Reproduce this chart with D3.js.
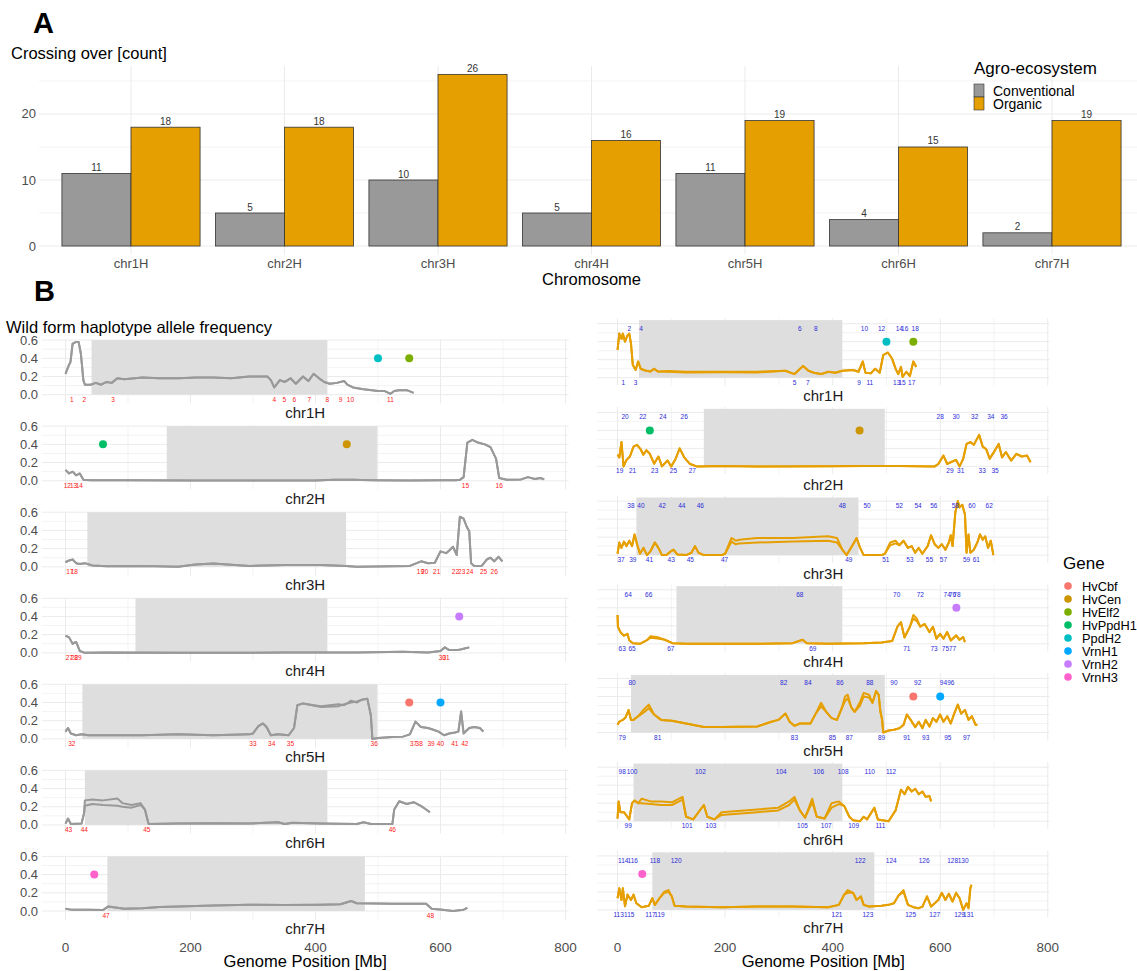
<!DOCTYPE html>
<html>
<head>
<meta charset="utf-8">
<script src="https://cdn.jsdelivr.net/npm/d3@7"></script>
<style>
  body { margin: 0; background: #fff; }
  svg { display: block; font-family: "Liberation Sans", Arial, Helvetica, sans-serif; }
</style>
</head>
<body>
<svg id="fig" width="1137" height="971"></svg>
<script>
// ---------- Panel A: crossing-over counts ----------
const chromosomes = ["chr1H", "chr2H", "chr3H", "chr4H", "chr5H", "chr6H", "chr7H"];
const systems = ["Conventional", "Organic"];
const conventionalCounts = [11, 5, 10, 5, 11, 4, 2];
const organicCounts = [18, 18, 26, 16, 19, 15, 19];
const systemColors = ["#999999", "#E69F00"];
const countTicks = [0, 10, 20];

// ---------- Panel B: wild haplotype allele frequency ----------
const genes = ["HvCbf", "HvCen", "HvElf2", "HvPpdH1", "PpdH2", "VrnH1", "VrnH2", "VrnH3"];
const geneColors = ["#F8766D", "#CD9600", "#7CAE00", "#00BE67", "#00BFC4", "#00A9FF", "#C77CFF", "#FF61CC"];
// gene, chromosome, position [Mb]
const geneSites = [
  ["PpdH2", "chr1H", 500], ["HvElf2", "chr1H", 550],
  ["HvPpdH1", "chr2H", 60], ["HvCen", "chr2H", 450],
  ["VrnH2", "chr4H", 630],
  ["HvCbf", "chr5H", 550], ["VrnH1", "chr5H", 600],
  ["VrnH3", "chr7H", 46]
];
const geneFreq = 0.4;
const positionTicks = [0, 200, 400, 600, 800];
const freqTicks = [0, 0.2, 0.4, 0.6];

// Conventional traces: [Mb, frequency, second replicate where it differs]
const conv1H = [[0,0.23],[5.7,0.33],[8,0.36],[11.4,0.56],[17,0.58],[21,0.58],[24.6,0.45],[28.6,0.16],[31,0.11],[40,0.11],[48.6,0.13],[57,0.11],[65.7,0.14],[74,0.13],[83,0.18],[94,0.17],[123,0.19],[150,0.18],[180,0.18],[210,0.19],[237,0.19],[265,0.18],[294,0.2],[323,0.2],[328.6,0.16],[334,0.08],[343,0.16],[351,0.14],[360,0.18],[368.6,0.12],[380,0.2],[388.6,0.15],[397,0.23],[405.7,0.18],[414,0.14],[423,0.12],[434,0.13],[446,0.15],[451,0.11],[460,0.08],[477,0.06],[500,0.04],[511,0.04],[520,0.01],[526,0.04],[534,0.05],[546,0.05],[557,0.02]];
const conv2H = [[0,0.12],[5.7,0.08],[11.4,0.1],[17,0.06],[22.9,0.08],[28.6,0.01],[40,0.005],[100,0.005],[200,0.003],[300,0.004],[400,0.003],[430,0.01],[460,0.01],[490,0.005],[550,0.003],[600,0.005],[625,0.005],[631,0.01],[637,0.04],[643,0.42],[651,0.45],[660,0.42],[671,0.4],[680,0.37],[689,0.24],[694,0.03],[706,0.01],[729,0.015],[740,0.04],[751,0.02],[760,0.03],[766,0.015]];
const conv3H = [[0,0.05],[5.7,0.07],[11.4,0.08],[17,0.04],[22.9,0.03],[31,0.04],[43,0.015],[65.7,0.005],[123,0.01],[180,0],[208,0.025],[237,0.035],[294,0.01],[351,0.02],[408.6,0.02],[449,0.01],[466,0],[523,0.005],[551,0.01],[569,0.06],[580,0.04],[591,0.045],[600,0.17],[609,0.15],[614,0.18],[620,0.22],[626,0.13],[631,0.55],[637,0.53],[642,0.44],[646,0.39],[649,0.04],[654,0.01],[666,0.01],[674,0.08],[680,0.1],[686,0.06],[693,0.11],[699,0.06]];
const conv4H = [[0,0.19],[5.7,0.17],[11.4,0.1],[17,0.12],[22.9,0.02],[31,0],[65.7,0.005],[180,0],[351,0.003],[466,0.005],[540,0.012],[580,0.005],[600,0.02],[607,0.06],[614,0.03],[626,0.03],[634,0.04],[640,0.05],[646,0.06]];
const conv5H = [[0,0.08],[4,0.12],[8.6,0.06],[17,0.04],[25.7,0.05],[37,0.04],[65.7,0.04],[123,0.04],[180,0.05],[237,0.04],[294,0.05],[300,0.06],[308.6,0.14],[316,0.17],[321.7,0.13],[328.6,0.04],[340,0.05],[357,0.04],[365.7,0.12],[371,0.37],[380,0.39],[408.6,0.36,0.35],[437,0.38,0.36],[446,0.37,0.38],[457,0.42,0.4],[466,0.4,0.41],[474,0.43],[483,0.44],[488.6,0.26],[491,0],[500,0.01],[523,0.02],[540,0.025],[551,0.05],[560,0.19],[568.6,0.13],[580,0.12],[588.6,0.1],[597,0.08],[605.7,0.04],[614,0.06],[623,0.07],[628.6,0.08],[633,0.3],[637,0.06],[646,0.12],[654,0.13],[663,0.12],[668.6,0.08]];
const conv6H = [[0,0.015],[4,0.07],[8.6,0.01],[25.7,0.015],[29.7,0.13],[31,0.27,0.21],[43,0.28,0.23],[60,0.27,0.22],[83,0.29,0.21],[91,0.24,0.2],[105.7,0.22,0.19],[120,0.24,0.22],[127,0.17],[133,0.01],[180,0.015],[237,0.02],[294,0.015],[340,0.03],[351,0.01],[363,0.025],[408.6,0.015],[466,0.01],[477,0.03],[488.6,0.01],[523,0.01],[526,0.17],[534,0.26],[546,0.23],[557,0.25],[568.6,0.21],[577,0.17],[583,0.14]];
const conv7H = [[0,0.025],[8.6,0.015],[37,0.015],[60,0.01],[68.6,0.05],[77,0.04],[94,0.025],[123,0.03],[151,0.045],[180,0.05],[237,0.06],[294,0.07],[351,0.065],[408.6,0.07],[440,0.075],[457,0.11],[466,0.085],[523,0.08],[577,0.08],[586,0.025],[603,0.015],[620,0],[637,0.015],[643,0.035]];

// Organic traces
const org1H = [[0,0.31],[3.3,0.49],[7.3,0.43],[9.9,0.49],[13.9,0.4],[18.5,0.47],[21.8,0.49],[25,0.38],[28.4,0.14],[33.7,0.085],[38.3,0.18],[43,0.1],[51.5,0.08],[61.4,0.07],[68,0.1],[74.6,0.07],[94.5,0.075,0.065],[127.5,0.066,0.058],[193.5,0.066,0.06],[259.6,0.066,0.058],[312,0.077],[329,0.04],[345,0.13],[355,0.077],[365,0.055],[378.5,0.04],[391.7,0.066],[405,0.055],[418,0.077],[438,0.085],[448,0.066],[456,0.18],[461,0.055],[471,0.048],[479,0.1],[487.5,0.055],[494,0.25],[502.6,0.28],[510.6,0.21],[517,0.1],[522,0.04],[527,0.12],[530,0.01],[537,0.066],[543.6,0.018],[550,0.18],[555.5,0.12]];
const org2H = [[0,0.13],[3.3,0.1],[7.3,0.27],[11.2,0],[16.5,0.07],[23,0.11],[29.7,0.22],[36.3,0.24],[43,0.19],[48,0.13],[53.5,0.18],[60,0.14],[68,0.03],[76,0.11],[82.6,0],[93,0.065],[99.7,0],[107.7,0.08],[115.6,0.2],[124,0.1],[134,0.03],[147,0],[193.5,0.004],[259.6,0],[391.7,0.002],[457.7,0.004],[523.8,0.004],[589.8,0],[596.4,0.027],[606,0.12],[613,0.027],[619.6,0.046],[629.5,0.072],[636,0],[642.7,0.084],[649,0.25],[656,0.27],[662.5,0.24],[672.4,0.35],[679,0.22],[685.6,0.19],[692,0.085],[698.8,0.15],[708.7,0.25],[715,0.1],[722,0.16],[731.8,0.065],[741.7,0.14],[751.6,0.11],[761.5,0.12],[768,0.046]];
const org3H = [[0,0.015],[3.3,0.14],[7.3,0.08],[11.9,0.15],[16.5,0.1],[21.8,0.16],[27,0.1],[31.7,0.23],[36.3,0.12],[41.6,0.015],[48.2,0.08],[54.8,0],[61.4,0.045],[69.4,0.14],[76,0.08],[82.6,0],[91,0],[99.7,0.045],[104,0.06],[111,0.007],[127.5,0],[137.4,0.026],[144,0.1],[150.6,0.026],[160.5,0],[193.5,0],[200,0.015],[212,0.19,0.15],[220,0.16,0.12],[226.5,0.17,0.13],[259.6,0.19,0.14],[325.6,0.19,0.15],[391.7,0.21,0.16],[408,0.19,0.14],[418,0.06],[426,0],[438,0.12],[444.5,0.19],[451,0.08],[457.7,0],[490.8,0],[497,0.015],[507,0.14,0.11],[517,0.16,0.13],[523.8,0.11],[531.7,0.16],[540,0.08],[547,0.1],[553.5,0.026],[560,0.08],[566.7,0.015],[576.6,0.1],[583,0.22],[589.8,0.12],[596.4,0.08],[603,0.12],[609.6,0.06],[616,0.14],[619.6,0.22],[623,0.1],[628,0.47],[632.7,0.6],[636,0.53],[641,0.56],[646,0.45],[649,0.026],[652.6,0.23],[656,0.026],[662.5,0.06],[669,0.14],[674,0.23],[679,0.17],[683.6,0.21],[689,0.08],[694,0.16],[698.8,0]];
const org4H = [[0,0.32],[0.7,0.19],[5.3,0.13],[11.9,0.09],[18.5,0.11],[21.8,0.04],[28.4,0.007],[41.6,0],[54.8,0.04],[61.4,0.085,0.067],[74.6,0.074,0.06],[87.8,0.045],[102,0.007],[127.5,0],[193.5,0],[259.6,0],[325.6,0.007],[344,0.045],[352,0.007],[391.7,0],[457.7,0.007],[490.8,0.015],[510.6,0.03],[520.5,0.19],[527,0.24],[533.6,0.07],[543.6,0.19],[550,0.32,0.28],[556.5,0.28,0.25],[563,0.19],[571,0.22],[579.9,0.13],[586.5,0.19],[593,0.056],[599.7,0.11],[606,0.056],[612.9,0.13],[619.6,0.037],[629.5,0.093],[636,0.045],[642.7,0.074],[646,0.019]];
const org5H = [[0,0.085],[3.3,0.12],[9.9,0.14],[15.2,0.17],[20.5,0.25],[25,0.14],[29.7,0.14],[38.3,0.18],[48.2,0.25,0.22],[58,0.31,0.27],[68,0.2],[81,0.14],[101,0.13],[127.5,0.1],[160.5,0.06],[193.5,0.06],[259.6,0.066],[286,0.12],[299,0.14],[312.4,0.21],[320,0.12],[329,0.074],[339,0.1],[358.7,0.1],[368.5,0.21],[378.5,0.33,0.29],[388,0.23],[398,0.16],[408,0.14],[417,0.27],[423,0.4,0.35],[428,0.42,0.38],[434.6,0.28],[441,0.23],[451,0.34,0.3],[457.7,0.44,0.4],[467.6,0.42,0.39],[474,0.33],[480.8,0.46],[485.5,0.42],[488.8,0.23],[492,0.14],[494,0],[504,0.022],[514,0.03],[524,0.048],[531.7,0.085],[538,0.2],[545,0.14],[553.5,0.06],[560,0.12],[567,0.048],[573,0.14],[580,0.066],[586.5,0.16],[593,0.12],[599.7,0.2],[606,0.12],[613,0.18],[619.6,0.1],[626,0.21],[632.7,0.31],[639,0.21],[646,0.25],[652.6,0.14],[659,0.18],[665.8,0.085],[669,0.085]];
const org6H = [[0,0.03],[2,0.22],[5.3,0.1],[11.9,0.1],[21.8,0.02],[27,0.2],[31.7,0.23],[38.3,0.2],[45,0.25,0.2],[61.4,0.22,0.19],[81,0.22,0.18],[101,0.21,0.18],[121,0.27,0.24],[127.5,0.05],[140.7,0.02],[160.5,0.18],[167,0.05],[180,0.02],[193.5,0.1,0.07],[259.6,0.13,0.1],[299,0.15,0.12],[319,0.22,0.18],[329,0.27,0.24],[339,0.12],[348.7,0.04],[362,0.25,0.21],[370.5,0.05],[385,0.03],[398,0.2,0.15],[411.5,0.22,0.19],[421.4,0.17],[431,0.05],[438,0.01],[451,0],[457.7,0.05],[464,0.02],[477.5,0.15],[484,0.02],[504,0],[517,0.12],[527,0.35],[533.7,0.3],[540,0.38],[547,0.33],[553.5,0.36],[560,0.3],[567,0.33],[573,0.27],[580,0.28],[583,0.22]];
const org7H = [[0,0.13],[3.3,0.24],[7.3,0.11],[9.9,0.24],[13.9,0.04],[18.5,0.17],[25,0.11],[29.7,0.17],[35,0.074],[45,0.03],[58,0.045],[64.7,0.13],[69.4,0.056],[78,0.13],[86.5,0.2,0.186],[94.5,0.22,0.2],[101,0.15],[106,0.045],[127.5,0.037],[193.5,0.03],[259.6,0.037],[325.6,0.037],[391.7,0.03],[411.5,0.056],[421.4,0.17],[428,0.22,0.19],[438,0.19],[444.5,0.11],[452.4,0.15],[457.7,0.056],[467.6,0.037],[490.8,0.045],[504,0.056],[514,0.074],[522.5,0.16],[531.7,0.22,0.2],[540,0.056],[550,0.03],[560,0.019],[567,0.037],[575.4,0.15],[583,0.037],[589.8,0.074],[596.4,0.11],[603,0.19],[609.6,0.11],[616,0.18],[622.9,0.093],[629.5,0.19],[636,0.13],[642.7,0],[649,0.074],[652.6,0.019],[656,0.24],[658,0.28]];

// Low-recombination (shaded) intervals [start, end] in Mb
const convShade = [[41.7,419],[162,499],[35,449],[112,419],[27,499],[31,419],[67,479]];
const orgShade = [[40,418],[160.5,497],[35,448],[109.6,418],[25,497],[29.7,418],[64.7,477.5]];

// Crossing-over positions [Mb], numbered consecutively across chromosomes
const convBreaks = [
  [10,30,76,334,350,366,390,419,440,456,520],
  [3,13,22,640,694],
  [7,14,568,575,594,624,634,647,669,686],
  [6,14,20,603,609],
  [10,300,330,360,494,557,566,585,600,623,639],
  [5,30,130,523],
  [65,584]
];
const orgBreaks = [
  [10.6,21.8,33.7,43.6,329,339,354,368.5,449,459,469,491,519,524,529,534,547,553.5],
  [4,14,28,47,69,84.5,104,124,139,600,618,629.5,638,664,678,694,702,718.6],
  [6.6,25,28.4,43.6,59.4,83,99.7,119.5,135.4,154,199,418,430,464,498.7,523.8,543.6,558.8,580,588,606,628,649,659,667,691],
  [8.6,19.8,27,58,99,339,363,519,538,563,588.5,613,609.6,623,623,631],
  [8.6,27,74.6,309,329,354,399.6,413.5,431,469,490.8,514,538,558,573,606,614,619.6,649],
  [8.6,19.8,27,129.5,154,173.7,304.5,344,374,388,419.4,439,469,488.8,508.6],
  [2,10.6,21.8,28.4,61.4,69.4,78,109,408,451,465.6,509,545,570,589.8,623,636,642.7,652.6]
];
const convTraces = [conv1H, conv2H, conv3H, conv4H, conv5H, conv6H, conv7H];
const orgTraces = [org1H, org2H, org3H, org4H, org5H, org6H, org7H];

const svg = d3.select("#fig");
const FONT_AX = "#4d4d4d";
const GRID = "#ebebeb";

// ================= Panel A =================
const gA = svg.append("g");
const xA = d3.scalePoint().domain(chromosomes).range([131, 1052]);
const stepA = xA.step();
const yA = d3.scaleLinear().domain([-1.3, 27.3]).range([254.6, 65.8]);
const plotA = { left: 39, right: 1137, top: 65.8, bottom: 254.6 };

// grid
d3.range(0, 27, 5).forEach(v => {
  gA.append("line").attr("x1", plotA.left).attr("x2", plotA.right)
    .attr("y1", yA(v)).attr("y2", yA(v))
    .attr("stroke", GRID).attr("stroke-width", v % 10 === 0 ? 1 : 0.6);
});
chromosomes.forEach(c => {
  gA.append("line").attr("x1", xA(c)).attr("x2", xA(c))
    .attr("y1", plotA.top).attr("y2", plotA.bottom)
    .attr("stroke", GRID).attr("stroke-width", 1);
});

const barW = stepA * 0.45;
const seriesA = [conventionalCounts, organicCounts];
seriesA.forEach((vals, s) => {
  const g = gA.append("g");
  g.selectAll("rect").data(chromosomes).join("rect")
    .attr("x", c => xA(c) - barW + s * barW)
    .attr("width", barW)
    .attr("y", (c, i) => yA(vals[i]))
    .attr("height", (c, i) => yA(0) - yA(vals[i]))
    .attr("fill", systemColors[s])
    .attr("stroke", "#333").attr("stroke-width", 0.8);
  g.selectAll("text").data(chromosomes).join("text")
    .attr("x", c => xA(c) - barW / 2 + s * barW)
    .attr("y", (c, i) => yA(vals[i]) - 2.5)
    .attr("text-anchor", "middle").attr("font-size", 10).attr("fill", "#333")
    .text((c, i) => vals[i]);
});

// axes text
countTicks.forEach(t => {
  gA.append("text").attr("x", 36).attr("y", yA(t) + 4.5)
    .attr("text-anchor", "end").attr("font-size", 13).attr("fill", FONT_AX).text(t);
});
chromosomes.forEach(c => {
  gA.append("text").attr("x", xA(c)).attr("y", 268)
    .attr("text-anchor", "middle").attr("font-size", 13).attr("fill", FONT_AX).text(c);
});
gA.append("text").attr("x", (plotA.left + 1144) / 2).attr("y", 285)
  .attr("text-anchor", "middle").attr("font-size", 16.5).attr("fill", "#000").text("Chromosome");
gA.append("text").attr("x", 11).attr("y", 59).attr("font-size", 16.5).attr("fill", "#000").text("Crossing over [count]");
svg.append("text").attr("x", 33).attr("y", 33).attr("font-size", 29).attr("font-weight", "bold").text("A");

// legend A
const legA = gA.append("g");
legA.append("text").attr("x", 974).attr("y", 74).attr("font-size", 17).attr("fill", "#000").text("Agro-ecosystem");
systems.forEach((s, i) => {
  legA.append("rect").attr("x", 974).attr("y", 84 + i * 13).attr("width", 10).attr("height", 13)
    .attr("fill", systemColors[i]).attr("stroke", "#333").attr("stroke-width", 0.6);
  legA.append("text").attr("x", 993).attr("y", 95.5 + i * 13).attr("font-size", 14).attr("fill", "#000").text(s);
});

// ================= Panel B =================
svg.append("text").attr("x", 34).attr("y", 301).attr("font-size", 29).attr("font-weight", "bold").text("B");
svg.append("text").attr("x", 6).attr("y", 332.5).attr("font-size", 16.5).attr("fill", "#000")
  .text("Wild form haplotype allele frequency");

const geneColor = d3.scaleOrdinal().domain(genes).range(geneColors);

function drawColumn(cfg) {
  const g = svg.append("g");
  const x = cfg.x;
  const [xl, xr] = x.range();
  chromosomes.forEach((chr, i) => {
    const base = cfg.base0 + cfg.rowStep * i;
    const y = d3.scaleLinear().domain([0, 0.6]).range([base, base - 0.6 * cfg.unit]);
    const top = y(cfg.panelTop), bottom = y(cfg.panelBottom);
    const pg = g.append("g");
    // grid
    d3.range(0, 0.61, 0.1).forEach((v, k) => {
      pg.append("line").attr("x1", xl).attr("x2", xr).attr("y1", y(v)).attr("y2", y(v))
        .attr("stroke", GRID).attr("stroke-width", k % 2 === 0 ? 1 : 0.6);
    });
    d3.range(0, 801, 100).forEach(v => {
      pg.append("line").attr("x1", x(v)).attr("x2", x(v)).attr("y1", top).attr("y2", bottom)
        .attr("stroke", GRID).attr("stroke-width", v % 200 === 0 ? 1 : 0.6);
    });
    // shaded interval
    const sh = cfg.shades[i];
    pg.append("rect").attr("x", x(sh[0])).attr("width", x(sh[1]) - x(sh[0]))
      .attr("y", y(cfg.shadeTop)).attr("height", y(0) - y(cfg.shadeTop)).attr("fill", "#dedede");
    // traces (two replicates)
    const tr = cfg.traces[i];
    const l1 = d3.line().x(d => x(d[0])).y(d => y(d[1]));
    const l2 = d3.line().x(d => x(d[0])).y(d => y(d.length > 2 ? d[2] : d[1]));
    [l2, l1].forEach(l => {
      pg.append("path").attr("d", l(tr)).attr("fill", "none").attr("stroke", cfg.color)
        .attr("stroke-width", 2).attr("stroke-linejoin", "round");
    });
    // gene markers
    geneSites.filter(s => s[1] === chr).forEach(s => {
      pg.append("circle").attr("cx", x(s[2])).attr("cy", y(geneFreq)).attr("r", 4)
        .attr("fill", geneColor(s[0]));
    });
    // crossing-over numbers
    const offset = d3.sum(cfg.breaks.slice(0, i), a => a.length);
    cfg.breaks[i].forEach((pos, k) => {
      const n = offset + k + 1;
      const above = cfg.alternate && n % 2 === 0;
      pg.append("text").attr("x", x(pos))
        .attr("y", above ? y(cfg.aboveAt) + 2.3 : y(0) + 7)
        .attr("text-anchor", "middle").attr("font-size", 6.5).attr("fill", cfg.numColor).text(n);
    });
    // y axis labels
    if (cfg.yLabels) {
      freqTicks.forEach(t => {
        pg.append("text").attr("x", 38).attr("y", y(t) + 4.5).attr("text-anchor", "end")
          .attr("font-size", 13).attr("fill", FONT_AX).text(t.toFixed(1));
      });
    }
    // strip label
    pg.append("text").attr("x", (xl + xr) / 2).attr("y", base + 18.4 + 5)
      .attr("text-anchor", "middle").attr("font-size", 15).attr("fill", "#1a1a1a").text(chr);
  });
  // x axis
  positionTicks.forEach(t => {
    g.append("text").attr("x", x(t)).attr("y", 951.5).attr("text-anchor", "middle")
      .attr("font-size", 13.5).attr("fill", FONT_AX).text(t);
  });
  g.append("text").attr("x", (xl + xr) / 2).attr("y", 967).attr("text-anchor", "middle")
    .attr("font-size", 16.5).attr("fill", "#000").text("Genome Position [Mb]");
}

drawColumn({
  x: d3.scaleLinear().domain([-38, 805]).range([41.75, 568.6]),
  base0: 394.7, rowStep: 86.05, unit: 91,
  panelTop: 0.605, panelBottom: -0.095, shadeTop: 0.6,
  traces: convTraces, shades: convShade, breaks: convBreaks,
  color: "#999999", numColor: "#ff2020", alternate: false, yLabels: true
});
drawColumn({
  x: d3.scaleLinear().domain([-38, 803]).range([597.1, 1049.4]),
  base0: 377.7, rowStep: 88.7, unit: 90,
  panelTop: 0.66, panelBottom: -0.085, shadeTop: 0.64, aboveAt: 0.55,
  traces: orgTraces, shades: orgShade, breaks: orgBreaks,
  color: "#E69F00", numColor: "#2b2bd9", alternate: true, yLabels: false
});

// Gene legend
const legB = svg.append("g");
legB.append("text").attr("x", 1063).attr("y", 569).attr("font-size", 17).attr("fill", "#000").text("Gene");
genes.forEach((gname, i) => {
  legB.append("circle").attr("cx", 1068).attr("cy", 586 + i * 13).attr("r", 3.8).attr("fill", geneColors[i]);
  legB.append("text").attr("x", 1082).attr("y", 590.5 + i * 13).attr("font-size", 12.8).attr("fill", "#000").text(gname);
});
</script>
</body>
</html>
